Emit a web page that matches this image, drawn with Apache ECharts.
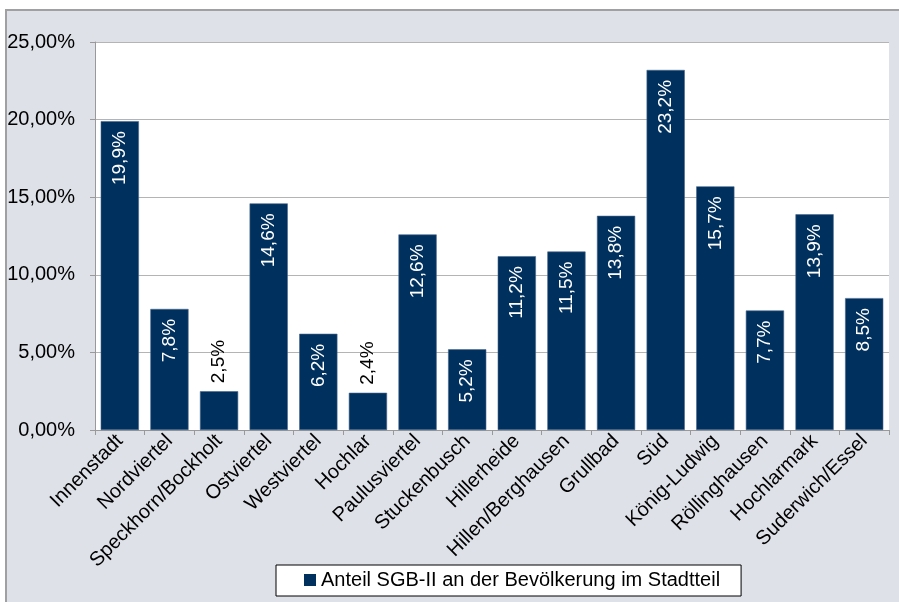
<!DOCTYPE html>
<html>
<head>
<meta charset="utf-8">
<style>
  html, body { margin: 0; padding: 0; background: #ffffff; }
  #chart { width: 899px; height: 602px; }
</style>
<script src="https://cdn.jsdelivr.net/npm/echarts@6/dist/echarts.min.js"></script>
</head>
<body>
<div id="chart"></div>
<script>
// Stadtteile und Anteil SGB-II-Bezieher (in Prozent der Bevölkerung)
const districts = [
  'Innenstadt', 'Nordviertel', 'Speckhorn/Bockholt', 'Ostviertel', 'Westviertel',
  'Hochlar', 'Paulusviertel', 'Stuckenbusch', 'Hillerheide', 'Hillen/Berghausen',
  'Grullbad', 'Süd', 'König-Ludwig', 'Röllinghausen', 'Hochlarmark', 'Suderwich/Essel'
];
const shares = [19.9, 7.8, 2.5, 14.6, 6.2, 2.4, 12.6, 5.2, 11.2, 11.5, 13.8, 23.2, 15.7, 7.7, 13.9, 8.5];
const seriesName = 'Anteil SGB-II an der Bevölkerung im Stadtteil';
const yTicks = { min: 0, max: 25, interval: 5 };

const FONT = 'Liberation Sans, Arial, sans-serif';
const BAR = '#00305e';

const fmtValue = v => v.toFixed(1).replace('.', ',') + '%';
const fmtTick = v => v.toFixed(2).replace('.', ',') + '%';

// Short bars carry their label above the bar in black
const outsideLabel = {
  position: 'top',
  distance: 8,
  align: 'left',
  verticalAlign: 'middle',
  color: '#000'
};
const barData = shares.map(v => (v < 3 ? { value: v, label: outsideLabel } : { value: v }));

const chart = echarts.init(document.getElementById('chart'));
chart.setOption({
  animation: false,
  backgroundColor: '#ffffff',
  graphic: [{
    type: 'rect',
    z: -10,
    silent: true,
    shape: { x: 6, y: 10, width: 920, height: 620 },
    style: { fill: '#dee1e8', stroke: '#a0a0a0', lineWidth: 2 }
  }],
  grid: {
    left: 95, right: 10, top: 42, bottom: 172,
    show: true, backgroundColor: '#ffffff', borderWidth: 0
  },
  legend: {
    left: 276, top: 565,
    data: [seriesName],
    icon: 'rect',
    itemWidth: 12, itemHeight: 12,
    itemStyle: { borderWidth: 0 },
    padding: [5, 21, 6, 28],
    backgroundColor: '#ffffff',
    borderColor: '#000000',
    borderWidth: 1,
    borderRadius: 0,
    textStyle: { fontFamily: FONT, fontSize: 20, lineHeight: 20, color: '#000' }
  },
  xAxis: {
    type: 'category',
    data: districts,
    axisLine: { lineStyle: { color: '#999999', width: 1 } },
    axisTick: { show: true, length: 5, alignWithLabel: false, lineStyle: { color: '#999999' } },
    axisLabel: {
      interval: 0, rotate: 45, margin: 8,
      fontFamily: FONT, fontSize: 20, color: '#000'
    }
  },
  yAxis: {
    type: 'value',
    min: yTicks.min, max: yTicks.max, interval: yTicks.interval,
    axisLine: { show: true, lineStyle: { color: '#999999', width: 1 } },
    axisTick: { show: true, length: 5, lineStyle: { color: '#999999' } },
    axisLabel: {
      formatter: fmtTick, margin: 20,
      fontFamily: FONT, fontSize: 20, color: '#000'
    },
    splitLine: { lineStyle: { color: '#b4b4b4', width: 1 } }
  },
  series: [{
    name: seriesName,
    type: 'bar',
    data: barData,
    barCategoryGap: '23%',
    itemStyle: { color: BAR, borderColor: '#48668c', borderWidth: 0.6 },
    label: {
      show: true,
      position: 'insideTop',
      distance: 10,
      rotate: 90,
      align: 'right',
      verticalAlign: 'middle',
      formatter: p => fmtValue(p.value),
      fontFamily: FONT, fontSize: 19, color: '#ffffff'
    }
  }]
});
</script>
</body>
</html>
